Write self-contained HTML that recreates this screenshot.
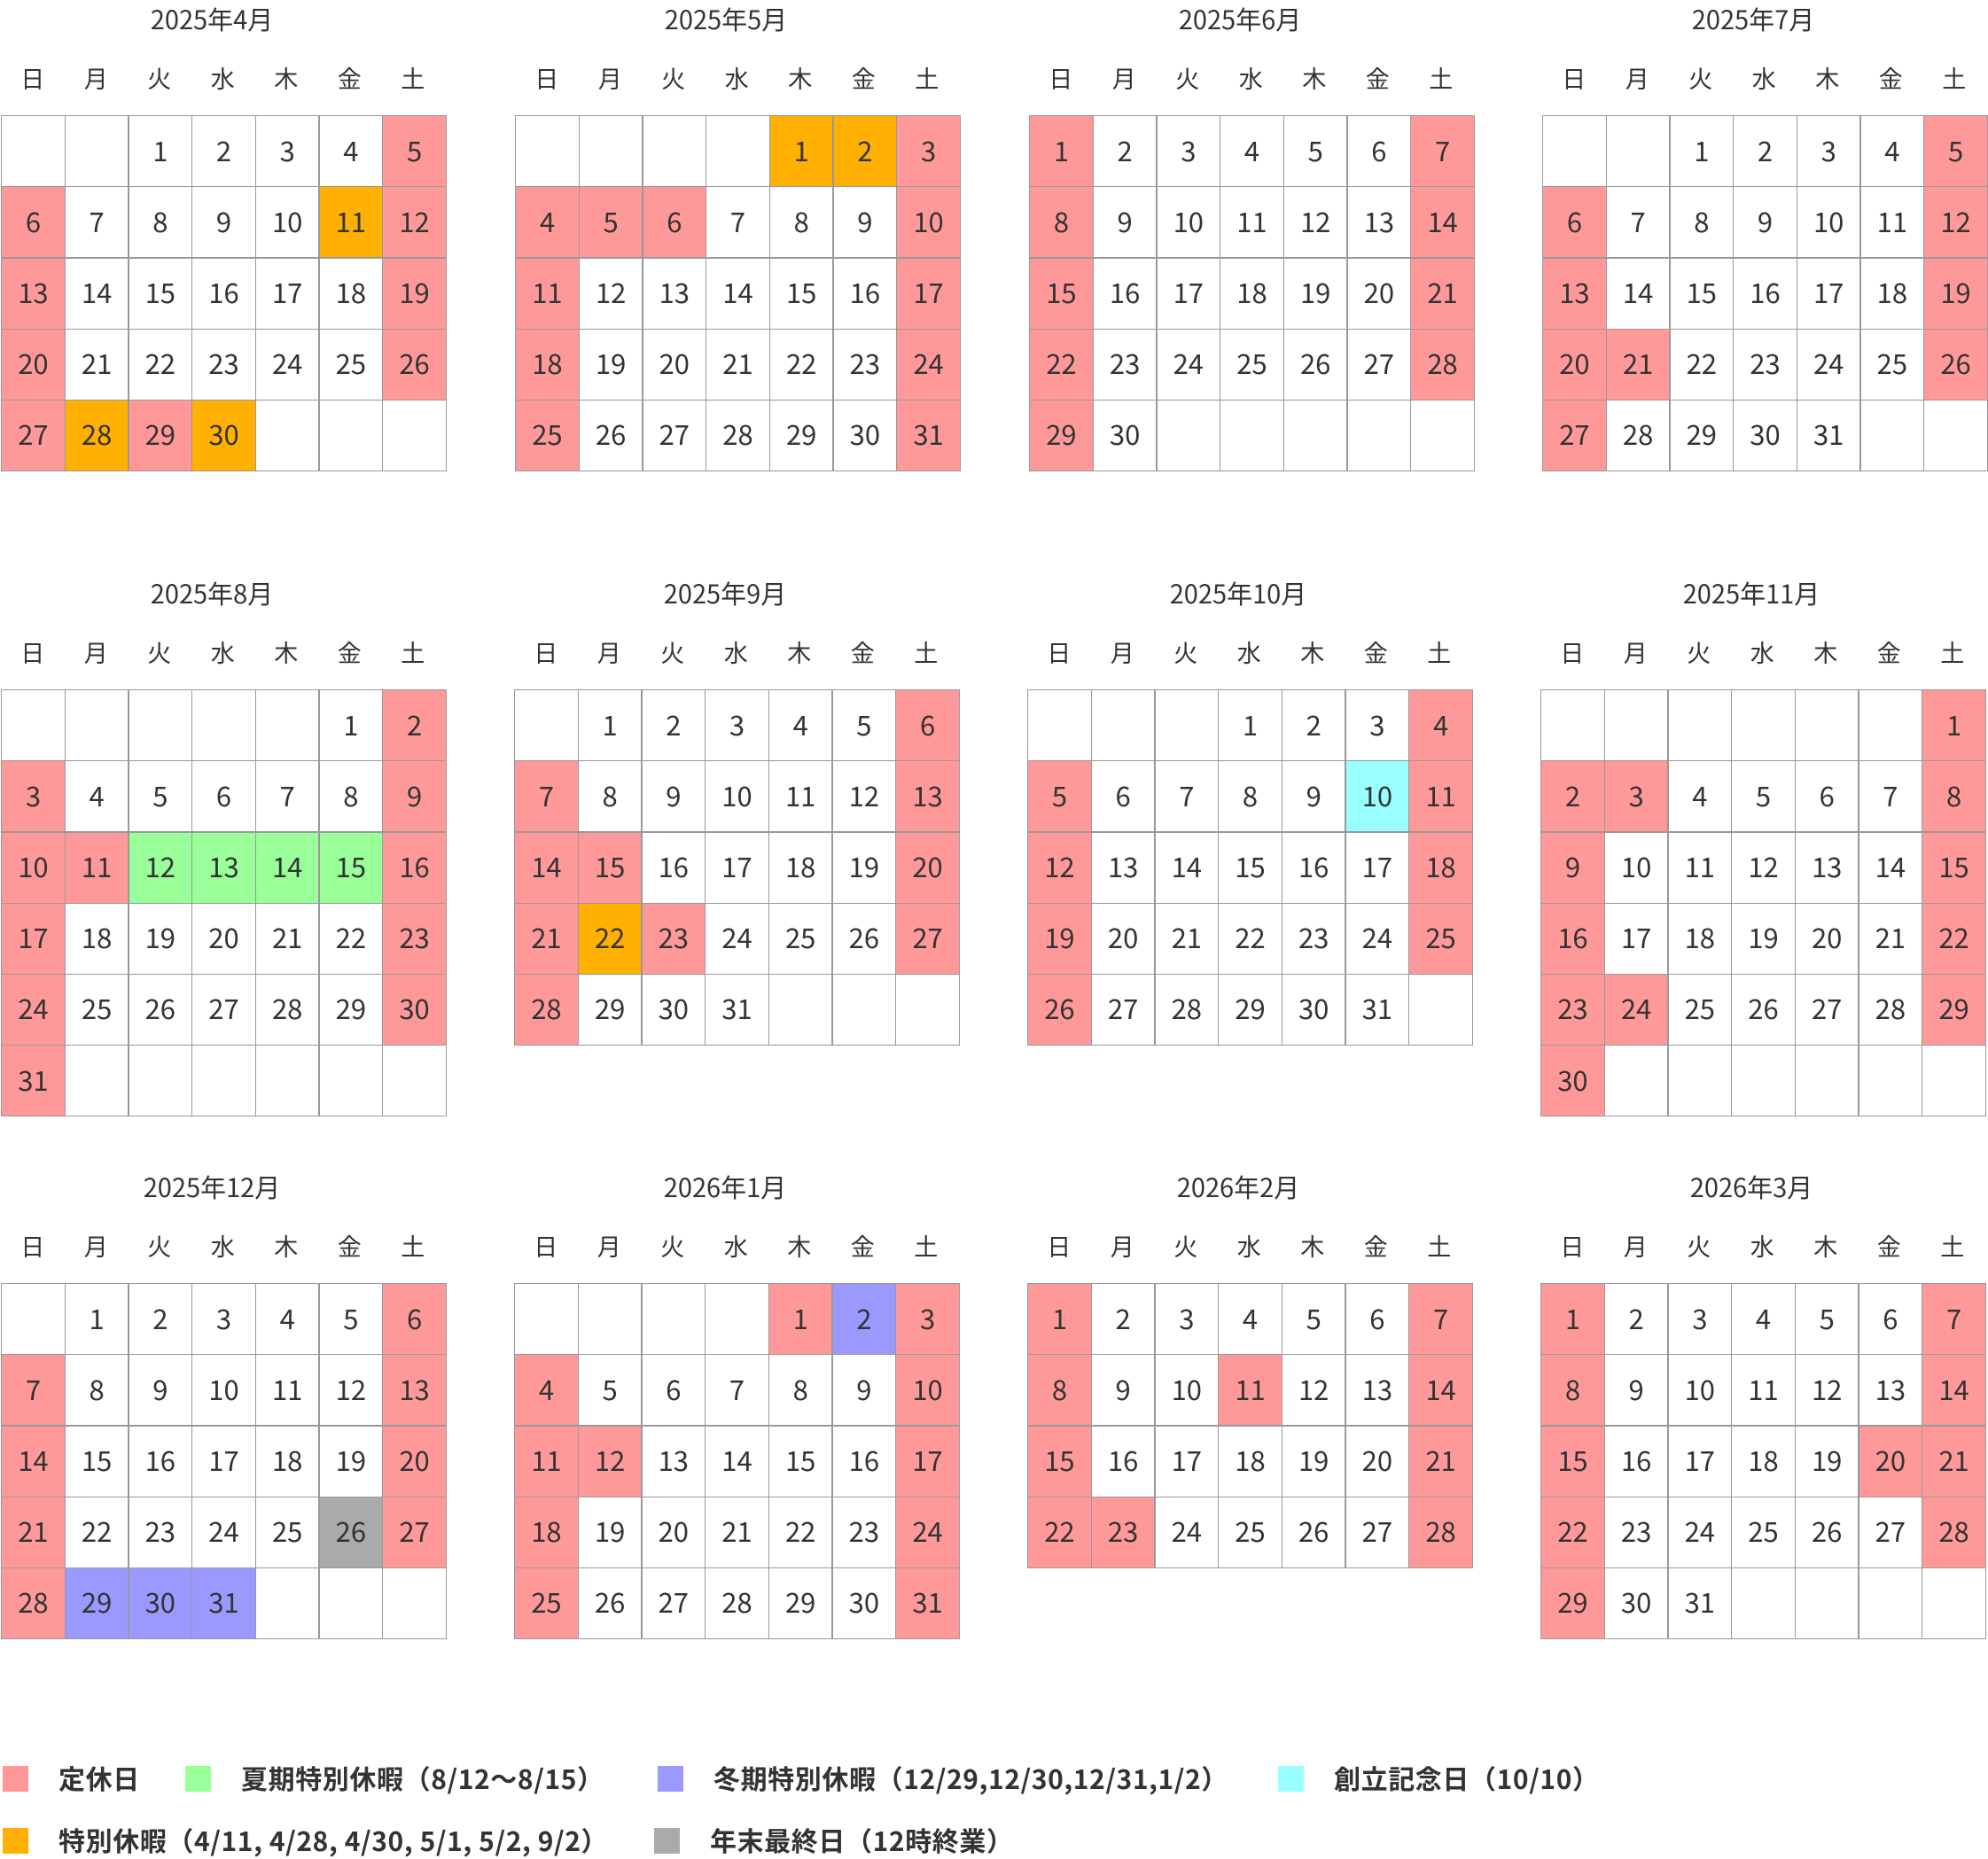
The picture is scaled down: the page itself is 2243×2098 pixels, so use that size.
<!DOCTYPE html>
<html><head><meta charset="utf-8"><style>
*{margin:0;padding:0;box-sizing:border-box}
body{width:2243px;height:2097px;background:#fff;position:relative;overflow:hidden;font-family:"Noto Sans CJK JP","Liberation Sans",sans-serif;color:#333}
.m{position:absolute;width:502px}
.t{position:absolute;top:-129px;left:-13px;width:502px;text-align:center;font-size:29px;line-height:40px}
.w{position:absolute;top:-62px;left:0;width:502px;display:grid;grid-template-columns:repeat(7,71.5px);font-size:27px;text-align:center;line-height:40px}
.g{display:grid;grid-template-columns:repeat(7,70.5px);grid-auto-rows:79px;gap:1.2px;padding:1.2px;background:#999;width:max-content}
.g b{background:#fff;font-weight:normal;font-size:31px;display:flex;align-items:center;justify-content:center;padding-bottom:5px}
.g b.p{background:#ff9999}.g b.o{background:#ffb000}.g b.n{background:#99ff99}.g b.u{background:#9999ff}.g b.c{background:#99ffff}.g b.y{background:#aaaaaa}
.l{position:absolute;font-size:30px;font-weight:bold;line-height:40px;letter-spacing:0.6px}
.s{position:absolute;width:29px;height:29px}
</style></head><body>

<div class="m" style="left:1px;top:130px"><div class="t">2025年4月</div><div class="w"><span>日</span><span>月</span><span>火</span><span>水</span><span>木</span><span>金</span><span>土</span></div><div class="g">
<b></b><b></b><b>1</b><b>2</b><b>3</b><b>4</b><b class="p">5</b>
<b class="p">6</b><b>7</b><b>8</b><b>9</b><b>10</b><b class="o">11</b><b class="p">12</b>
<b class="p">13</b><b>14</b><b>15</b><b>16</b><b>17</b><b>18</b><b class="p">19</b>
<b class="p">20</b><b>21</b><b>22</b><b>23</b><b>24</b><b>25</b><b class="p">26</b>
<b class="p">27</b><b class="o">28</b><b class="p">29</b><b class="o">30</b><b></b><b></b><b></b>
</div></div>

<div class="m" style="left:581px;top:130px"><div class="t">2025年5月</div><div class="w"><span>日</span><span>月</span><span>火</span><span>水</span><span>木</span><span>金</span><span>土</span></div><div class="g">
<b></b><b></b><b></b><b></b><b class="o">1</b><b class="o">2</b><b class="p">3</b>
<b class="p">4</b><b class="p">5</b><b class="p">6</b><b>7</b><b>8</b><b>9</b><b class="p">10</b>
<b class="p">11</b><b>12</b><b>13</b><b>14</b><b>15</b><b>16</b><b class="p">17</b>
<b class="p">18</b><b>19</b><b>20</b><b>21</b><b>22</b><b>23</b><b class="p">24</b>
<b class="p">25</b><b>26</b><b>27</b><b>28</b><b>29</b><b>30</b><b class="p">31</b>
</div></div>

<div class="m" style="left:1161px;top:130px"><div class="t">2025年6月</div><div class="w"><span>日</span><span>月</span><span>火</span><span>水</span><span>木</span><span>金</span><span>土</span></div><div class="g">
<b class="p">1</b><b>2</b><b>3</b><b>4</b><b>5</b><b>6</b><b class="p">7</b>
<b class="p">8</b><b>9</b><b>10</b><b>11</b><b>12</b><b>13</b><b class="p">14</b>
<b class="p">15</b><b>16</b><b>17</b><b>18</b><b>19</b><b>20</b><b class="p">21</b>
<b class="p">22</b><b>23</b><b>24</b><b>25</b><b>26</b><b>27</b><b class="p">28</b>
<b class="p">29</b><b>30</b><b></b><b></b><b></b><b></b><b></b>
</div></div>

<div class="m" style="left:1740px;top:130px"><div class="t">2025年7月</div><div class="w"><span>日</span><span>月</span><span>火</span><span>水</span><span>木</span><span>金</span><span>土</span></div><div class="g">
<b></b><b></b><b>1</b><b>2</b><b>3</b><b>4</b><b class="p">5</b>
<b class="p">6</b><b>7</b><b>8</b><b>9</b><b>10</b><b>11</b><b class="p">12</b>
<b class="p">13</b><b>14</b><b>15</b><b>16</b><b>17</b><b>18</b><b class="p">19</b>
<b class="p">20</b><b class="p">21</b><b>22</b><b>23</b><b>24</b><b>25</b><b class="p">26</b>
<b class="p">27</b><b>28</b><b>29</b><b>30</b><b>31</b><b></b><b></b>
</div></div>

<div class="m" style="left:1px;top:778px"><div class="t">2025年8月</div><div class="w"><span>日</span><span>月</span><span>火</span><span>水</span><span>木</span><span>金</span><span>土</span></div><div class="g">
<b></b><b></b><b></b><b></b><b></b><b>1</b><b class="p">2</b>
<b class="p">3</b><b>4</b><b>5</b><b>6</b><b>7</b><b>8</b><b class="p">9</b>
<b class="p">10</b><b class="p">11</b><b class="n">12</b><b class="n">13</b><b class="n">14</b><b class="n">15</b><b class="p">16</b>
<b class="p">17</b><b>18</b><b>19</b><b>20</b><b>21</b><b>22</b><b class="p">23</b>
<b class="p">24</b><b>25</b><b>26</b><b>27</b><b>28</b><b>29</b><b class="p">30</b>
<b class="p">31</b><b></b><b></b><b></b><b></b><b></b><b></b>
</div></div>

<div class="m" style="left:580px;top:778px"><div class="t">2025年9月</div><div class="w"><span>日</span><span>月</span><span>火</span><span>水</span><span>木</span><span>金</span><span>土</span></div><div class="g">
<b></b><b>1</b><b>2</b><b>3</b><b>4</b><b>5</b><b class="p">6</b>
<b class="p">7</b><b>8</b><b>9</b><b>10</b><b>11</b><b>12</b><b class="p">13</b>
<b class="p">14</b><b class="p">15</b><b>16</b><b>17</b><b>18</b><b>19</b><b class="p">20</b>
<b class="p">21</b><b class="o">22</b><b class="p">23</b><b>24</b><b>25</b><b>26</b><b class="p">27</b>
<b class="p">28</b><b>29</b><b>30</b><b>31</b><b></b><b></b><b></b>
</div></div>

<div class="m" style="left:1159px;top:778px"><div class="t">2025年10月</div><div class="w"><span>日</span><span>月</span><span>火</span><span>水</span><span>木</span><span>金</span><span>土</span></div><div class="g">
<b></b><b></b><b></b><b>1</b><b>2</b><b>3</b><b class="p">4</b>
<b class="p">5</b><b>6</b><b>7</b><b>8</b><b>9</b><b class="c">10</b><b class="p">11</b>
<b class="p">12</b><b>13</b><b>14</b><b>15</b><b>16</b><b>17</b><b class="p">18</b>
<b class="p">19</b><b>20</b><b>21</b><b>22</b><b>23</b><b>24</b><b class="p">25</b>
<b class="p">26</b><b>27</b><b>28</b><b>29</b><b>30</b><b>31</b><b></b>
</div></div>

<div class="m" style="left:1738px;top:778px"><div class="t">2025年11月</div><div class="w"><span>日</span><span>月</span><span>火</span><span>水</span><span>木</span><span>金</span><span>土</span></div><div class="g">
<b></b><b></b><b></b><b></b><b></b><b></b><b class="p">1</b>
<b class="p">2</b><b class="p">3</b><b>4</b><b>5</b><b>6</b><b>7</b><b class="p">8</b>
<b class="p">9</b><b>10</b><b>11</b><b>12</b><b>13</b><b>14</b><b class="p">15</b>
<b class="p">16</b><b>17</b><b>18</b><b>19</b><b>20</b><b>21</b><b class="p">22</b>
<b class="p">23</b><b class="p">24</b><b>25</b><b>26</b><b>27</b><b>28</b><b class="p">29</b>
<b class="p">30</b><b></b><b></b><b></b><b></b><b></b><b></b>
</div></div>

<div class="m" style="left:1px;top:1448px"><div class="t">2025年12月</div><div class="w"><span>日</span><span>月</span><span>火</span><span>水</span><span>木</span><span>金</span><span>土</span></div><div class="g">
<b></b><b>1</b><b>2</b><b>3</b><b>4</b><b>5</b><b class="p">6</b>
<b class="p">7</b><b>8</b><b>9</b><b>10</b><b>11</b><b>12</b><b class="p">13</b>
<b class="p">14</b><b>15</b><b>16</b><b>17</b><b>18</b><b>19</b><b class="p">20</b>
<b class="p">21</b><b>22</b><b>23</b><b>24</b><b>25</b><b class="y">26</b><b class="p">27</b>
<b class="p">28</b><b class="u">29</b><b class="u">30</b><b class="u">31</b><b></b><b></b><b></b>
</div></div>

<div class="m" style="left:580px;top:1448px"><div class="t">2026年1月</div><div class="w"><span>日</span><span>月</span><span>火</span><span>水</span><span>木</span><span>金</span><span>土</span></div><div class="g">
<b></b><b></b><b></b><b></b><b class="p">1</b><b class="u">2</b><b class="p">3</b>
<b class="p">4</b><b>5</b><b>6</b><b>7</b><b>8</b><b>9</b><b class="p">10</b>
<b class="p">11</b><b class="p">12</b><b>13</b><b>14</b><b>15</b><b>16</b><b class="p">17</b>
<b class="p">18</b><b>19</b><b>20</b><b>21</b><b>22</b><b>23</b><b class="p">24</b>
<b class="p">25</b><b>26</b><b>27</b><b>28</b><b>29</b><b>30</b><b class="p">31</b>
</div></div>

<div class="m" style="left:1159px;top:1448px"><div class="t">2026年2月</div><div class="w"><span>日</span><span>月</span><span>火</span><span>水</span><span>木</span><span>金</span><span>土</span></div><div class="g">
<b class="p">1</b><b>2</b><b>3</b><b>4</b><b>5</b><b>6</b><b class="p">7</b>
<b class="p">8</b><b>9</b><b>10</b><b class="p">11</b><b>12</b><b>13</b><b class="p">14</b>
<b class="p">15</b><b>16</b><b>17</b><b>18</b><b>19</b><b>20</b><b class="p">21</b>
<b class="p">22</b><b class="p">23</b><b>24</b><b>25</b><b>26</b><b>27</b><b class="p">28</b>
</div></div>

<div class="m" style="left:1738px;top:1448px"><div class="t">2026年3月</div><div class="w"><span>日</span><span>月</span><span>火</span><span>水</span><span>木</span><span>金</span><span>土</span></div><div class="g">
<b class="p">1</b><b>2</b><b>3</b><b>4</b><b>5</b><b>6</b><b class="p">7</b>
<b class="p">8</b><b>9</b><b>10</b><b>11</b><b>12</b><b>13</b><b class="p">14</b>
<b class="p">15</b><b>16</b><b>17</b><b>18</b><b>19</b><b class="p">20</b><b class="p">21</b>
<b class="p">22</b><b>23</b><b>24</b><b>25</b><b>26</b><b>27</b><b class="p">28</b>
<b class="p">29</b><b>30</b><b>31</b><b></b><b></b><b></b><b></b>
</div></div>

<div class="s" style="left:3px;top:1993px;background:#ff9999"></div><div class="l" style="left:66px;top:1986px">定休日</div>
<div class="s" style="left:209px;top:1993px;background:#99ff99"></div><div class="l" style="left:272px;top:1986px">夏期特別休暇（8/12〜8/15）</div>
<div class="s" style="left:742px;top:1993px;background:#9999ff"></div><div class="l" style="left:805px;top:1986px">冬期特別休暇（12/29,12/30,12/31,1/2）</div>
<div class="s" style="left:1442px;top:1993px;background:#99ffff"></div><div class="l" style="left:1505px;top:1986px">創立記念日（10/10）</div>
<div class="s" style="left:3px;top:2063px;background:#ffb000"></div><div class="l" style="left:66px;top:2056px">特別休暇（4/11, 4/28, 4/30, 5/1, 5/2, 9/2）</div>
<div class="s" style="left:738px;top:2063px;background:#aaaaaa"></div><div class="l" style="left:801px;top:2056px">年末最終日（12時終業）</div>
</body></html>
